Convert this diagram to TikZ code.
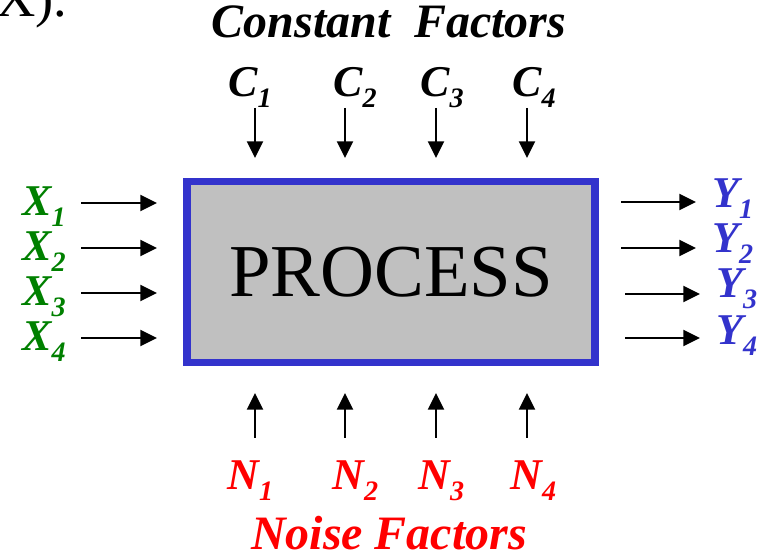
\documentclass[tikz,border=0pt]{standalone}
\usepackage{fontspec}
\setmainfont{Liberation Serif}
\usetikzlibrary{arrows.meta, positioning}
\usepackage{xcolor}
\definecolor{ProcBlue}{HTML}{3333CC}
\definecolor{ProcGray}{HTML}{C0C0C0}
\definecolor{CtrlGreen}{HTML}{008000}
\definecolor{NoiseRed}{HTML}{FF0000}
\definecolor{PlainBlack}{HTML}{000000}
\newcommand{\lowidx}[1]{\raisebox{-5.7pt}{\fontsize{16}{16}\selectfont #1}}
\tikzset{
    % Box style
    processbox/.style={
        rectangle,
        draw=ProcBlue,
        fill=ProcGray,
        line width=4.5pt,
        minimum width=8.17cm,
        minimum height=3.62cm,
        inner sep=0pt,
        align=center,
        font=\fontsize{42.5}{42.5}\selectfont
    },
    % Factor labels
    factor/.style={
        inner sep=0pt,
        anchor=base west,
        font=\fontsize{25}{25}\selectfont\bfseries\itshape
    },
    heading/.style={
        inner sep=0pt,
        anchor=base,
        font=\fontsize{27.3}{27.3}\selectfont\bfseries\itshape
    },
    % Arrow style
    arrow/.style={
        -{Triangle[length=9.5pt, width=9pt]},
        line width=1.5pt,
        draw=PlainBlack
    }
}

\begin{document}
\begin{tikzpicture}[x=0.02cm, y=-0.02cm]
    \useasboundingbox (0,0) rectangle (761,560);
    \clip (0,0) rectangle (761,560);

    % Cut-off text from above
    \node[inner sep=0pt, anchor=base west, font=\fontsize{31}{31}\selectfont] (cut) at (-4,17) {X).};

    % Process box
    \node[processbox] (box) at (391,272) {PROCESS};

    % Constant factors
    \node[heading] (ctitle) at (389,38) {Constant\ \ Factors};
    \node[factor] (c1) at (228,97) {C\lowidx{1}};
    \node[factor] (c2) at (333,97) {C\lowidx{2}};
    \node[factor] (c3) at (420,97) {C\lowidx{3}};
    \node[factor] (c4) at (512,97) {C\lowidx{4}};

    \coordinate (cs1) at (255,108); \coordinate (ce1) at (255,158);
    \coordinate (cs2) at (345,108); \coordinate (ce2) at (345,158);
    \coordinate (cs3) at (436,108); \coordinate (ce3) at (436,158);
    \coordinate (cs4) at (527,108); \coordinate (ce4) at (527,158);
    \draw[arrow] (cs1) -- (ce1);
    \draw[arrow] (cs2) -- (ce2);
    \draw[arrow] (cs3) -- (ce3);
    \draw[arrow] (cs4) -- (ce4);

    % Control inputs
    \node[factor, text=CtrlGreen] (x1) at (22,216) {X\lowidx{1}};
    \node[factor, text=CtrlGreen] (x2) at (22,261) {X\lowidx{2}};
    \node[factor, text=CtrlGreen] (x3) at (22,306) {X\lowidx{3}};
    \node[factor, text=CtrlGreen] (x4) at (22,351) {X\lowidx{4}};

    \coordinate (xs1) at (81,203); \coordinate (xe1) at (157,203);
    \coordinate (xs2) at (81,248); \coordinate (xe2) at (157,248);
    \coordinate (xs3) at (81,293); \coordinate (xe3) at (157,293);
    \coordinate (xs4) at (81,338); \coordinate (xe4) at (157,338);
    \draw[arrow] (xs1) -- (xe1);
    \draw[arrow] (xs2) -- (xe2);
    \draw[arrow] (xs3) -- (xe3);
    \draw[arrow] (xs4) -- (xe4);

    % Responses
    \node[factor, text=ProcBlue] (y1) at (712,208) {Y\lowidx{1}};
    \node[factor, text=ProcBlue] (y2) at (712,253) {Y\lowidx{2}};
    \node[factor, text=ProcBlue] (y3) at (716,298) {Y\lowidx{3}};
    \node[factor, text=ProcBlue] (y4) at (716,345) {Y\lowidx{4}};

    \coordinate (ys1) at (621,202); \coordinate (ye1) at (696,202);
    \coordinate (ys2) at (621,248); \coordinate (ye2) at (696,248);
    \coordinate (ys3) at (625,294); \coordinate (ye3) at (700,294);
    \coordinate (ys4) at (625,338); \coordinate (ye4) at (700,338);
    \draw[arrow] (ys1) -- (ye1);
    \draw[arrow] (ys2) -- (ye2);
    \draw[arrow] (ys3) -- (ye3);
    \draw[arrow] (ys4) -- (ye4);

    % Noise factors
    \coordinate (ns1) at (255,438); \coordinate (ne1) at (255,393);
    \coordinate (ns2) at (345,438); \coordinate (ne2) at (345,393);
    \coordinate (ns3) at (436,438); \coordinate (ne3) at (436,393);
    \coordinate (ns4) at (527,438); \coordinate (ne4) at (527,393);
    \draw[arrow] (ns1) -- (ne1);
    \draw[arrow] (ns2) -- (ne2);
    \draw[arrow] (ns3) -- (ne3);
    \draw[arrow] (ns4) -- (ne4);

    \node[factor, text=NoiseRed] (n1) at (227,490) {N\lowidx{1}};
    \node[factor, text=NoiseRed] (n2) at (332,490) {N\lowidx{2}};
    \node[factor, text=NoiseRed] (n3) at (418,490) {N\lowidx{3}};
    \node[factor, text=NoiseRed] (n4) at (510,490) {N\lowidx{4}};
    \node[heading, text=NoiseRed] (ntitle) at (389,549) {Noise Factors};
\end{tikzpicture}
\end{document}
